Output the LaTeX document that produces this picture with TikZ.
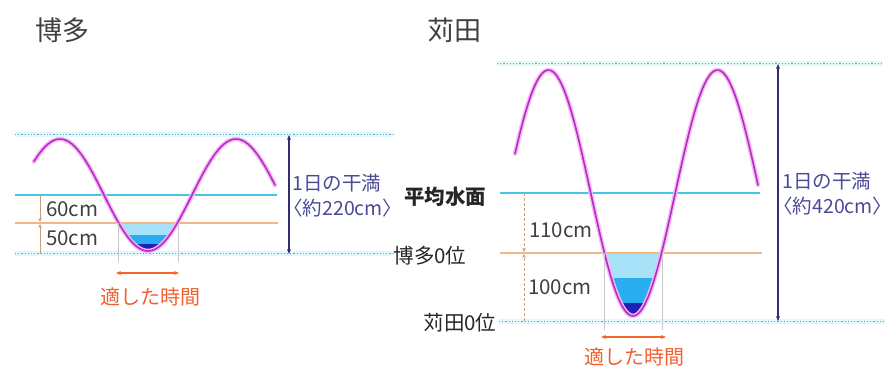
\documentclass[tikz,border=0pt]{standalone}
\usepackage{fontspec}
\setmainfont{Noto Sans CJK JP}
\usetikzlibrary{arrows.meta, positioning}
\definecolor{mwave}{HTML}{B42CC4}
\definecolor{mglow}{HTML}{F6B8F6}
\definecolor{mcyan}{HTML}{48C4E4}
\definecolor{morange}{HTML}{F0B888}
\definecolor{mdot}{HTML}{5AA8C8}
\definecolor{mband}{HTML}{E2F6FB}
\definecolor{mnavy}{HTML}{2E2E72}
\definecolor{mnavytext}{HTML}{4A4A98}
\definecolor{mred}{HTML}{F06030}
\definecolor{mlight}{HTML}{A8E2F8}
\definecolor{mmid}{HTML}{28AEF0}
\definecolor{mdeep}{HTML}{2020B8}
\definecolor{mgrid}{HTML}{C8C8C8}
\tikzstyle{placename} = [font=\fontsize{27}{30}\selectfont, text=black!75, inner sep=0pt]
\tikzstyle{cmtext} = [font=\fontsize{20.5}{24}\selectfont, text=black!75, inner sep=0pt, anchor=west]
\tikzstyle{rangetext} = [font=\fontsize{19.5}{25}\selectfont, text=mnavytext, inner sep=0pt, anchor=west, align=left]
\tikzstyle{leveltext} = [font=\fontsize{20.5}{24}\selectfont, text=black!85, inner sep=0pt]
\tikzstyle{windowtext} = [font=\fontsize{20}{24}\selectfont, text=mred, inner sep=0pt]
\tikzstyle{glowline} = [mglow, line width=4.5pt, line join=round, line cap=round]
\tikzstyle{waveline} = [mwave, line width=1.6pt, line join=round, line cap=round]
\tikzstyle{meanline} = [mcyan, line width=2pt]
\tikzstyle{zeroline} = [morange, line width=1.2pt]
\tikzstyle{bandline} = [mband, line width=5pt]
\tikzstyle{dotlevel} = [mdot, line width=1pt, dash pattern=on 1.2pt off 2pt]
\tikzstyle{tiderange} = [mnavy, line width=1.3pt, {Stealth[length=5pt,width=4pt]}-{Stealth[length=5pt,width=4pt]}]
\tikzstyle{cmdepth} = [morange!85!black, line width=0.8pt, -{Stealth[length=4pt,width=3.5pt]}]
\tikzstyle{okwindow} = [mred!80!orange, line width=1.2pt, {Stealth[length=5pt,width=4pt]}-{Stealth[length=5pt,width=4pt]}]
\tikzstyle{gridtick} = [mgrid, line width=0.5pt]
\newcommand{\hkwave}{plot[domain=34:275, samples=90] (\x, {195+56*cos((\x-148)/176*360)})}
\newcommand{\krwave}{plot[domain=515:758, samples=100] (\x, {193+123*cos((\x-633)/169*360)})}
\begin{document}
\begin{tikzpicture}[x=1pt, y=-1pt]
  \useasboundingbox (0,0) rectangle (892,374);
  % Hakata
  \node (hkname) [placename] at (62,30) {博多};
  \coordinate (hkTopL) at (15,135);  \coordinate (hkTopR) at (393,135);
  \coordinate (hkLowL) at (15,254);  \coordinate (hkLowR) at (393,254);
  \coordinate (hkMeanL) at (15,195); \coordinate (hkMeanR) at (277,195);
  \coordinate (hkZeroL) at (15,223); \coordinate (hkZeroR) at (278,223);
  \draw [bandline] (hkTopL) -- (hkTopR);
  \draw [bandline] (hkLowL) -- (hkLowR);
  \draw [dotlevel] (hkTopL) -- (hkTopR);
  \draw [dotlevel] (hkLowL) -- (hkLowR);
  \begin{scope}
    \clip \hkwave;
    \fill [mlight] (100,223) rectangle (200,235);
    \fill [mmid] (100,235) rectangle (200,244);
    \fill [mdeep] (100,244) rectangle (200,262);
  \end{scope}
  \draw [meanline] (hkMeanL) -- (hkMeanR);
  \draw [zeroline] (hkZeroL) -- (hkZeroR);
  \draw [glowline] \hkwave;
  \draw [waveline] \hkwave;
  \coordinate (hkInL) at (118,223); \coordinate (hkInLb) at (118,262);
  \coordinate (hkInR) at (178,223); \coordinate (hkInRb) at (178,262);
  \draw [gridtick] (hkInL) -- (hkInLb);
  \draw [gridtick] (hkInR) -- (hkInRb);
  \coordinate (hkWinL) at (116,273); \coordinate (hkWinR) at (179,273);
  \draw [okwindow] (hkWinL) -- (hkWinR);
  \node (hkwin) [windowtext] at (150,297) {適した時間};
  \coordinate (hkD1) at (40,195); \coordinate (hkD2) at (40,222);
  \coordinate (hkD3) at (40,254); \coordinate (hkD4) at (40,224);
  \draw [cmdepth] (hkD1) -- (hkD2);
  \draw [cmdepth] (hkD3) -- (hkD4);
  \node (hk60) [cmtext] at (46,209) {60cm};
  \node (hk50) [cmtext] at (46,238) {50cm};
  \coordinate (hkRT) at (289,135); \coordinate (hkRB) at (289,254);
  \draw [tiderange] (hkRT) -- (hkRB);
  \node (hkrange) [rangetext] at (292,196) {1日の干満\\\kern-0.45em〈約220cm〉\kern-0.5em};
  % Karita
  \node (krname) [placename] at (454,30) {苅田};
  \coordinate (krTopL) at (497,64);  \coordinate (krTopR) at (882,64);
  \coordinate (krLowL) at (499,321); \coordinate (krLowR) at (885,321);
  \coordinate (krMeanL) at (500,193); \coordinate (krMeanR) at (760,193);
  \coordinate (krZeroL) at (500,253); \coordinate (krZeroR) at (762,253);
  \draw [bandline] (krTopL) -- (krTopR);
  \draw [bandline] (krLowL) -- (krLowR);
  \draw [dotlevel] (krTopL) -- (krTopR);
  \draw [dotlevel] (krLowL) -- (krLowR);
  \begin{scope}
    \clip \krwave;
    \fill [mlight] (580,253) rectangle (690,278);
    \fill [mmid] (580,278) rectangle (690,303);
    \fill [mdeep] (580,303) rectangle (690,330);
  \end{scope}
  \draw [meanline] (krMeanL) -- (krMeanR);
  \draw [zeroline] (krZeroL) -- (krZeroR);
  \draw [glowline] \krwave;
  \draw [waveline] \krwave;
  \coordinate (krInL) at (604,253); \coordinate (krInLb) at (604,330);
  \coordinate (krInR) at (662,253); \coordinate (krInRb) at (662,330);
  \draw [gridtick] (krInL) -- (krInLb);
  \draw [gridtick] (krInR) -- (krInRb);
  \coordinate (krWinL) at (601,337); \coordinate (krWinR) at (666,337);
  \draw [okwindow] (krWinL) -- (krWinR);
  \node (krwin) [windowtext] at (634,357) {適した時間};
  \coordinate (krD1) at (524,193); \coordinate (krD2) at (524,252);
  \coordinate (krD3) at (524,321); \coordinate (krD4) at (524,254);
  \draw [cmdepth, densely dashed] (krD1) -- (krD2);
  \draw [cmdepth, densely dashed] (krD3) -- (krD4);
  \node (kr110) [cmtext] at (529,230) {110cm};
  \node (kr100) [cmtext] at (528,287) {100cm};
  \coordinate (krRT) at (778,64); \coordinate (krRB) at (778,321);
  \draw [tiderange] (krRT) -- (krRB);
  \node (krrange) [rangetext] at (782,194) {1日の干満\\\kern-0.45em〈約420cm〉\kern-0.5em};
  \node (mean) [leveltext, font=\fontsize{20.5}{24}\selectfont\bfseries] at (445,197) {平均水面};
  \node (hkzero) [leveltext] at (430,256) {博多0位};
  \node (krzero) [leveltext] at (460,323) {苅田0位};
\end{tikzpicture}
\end{document}
